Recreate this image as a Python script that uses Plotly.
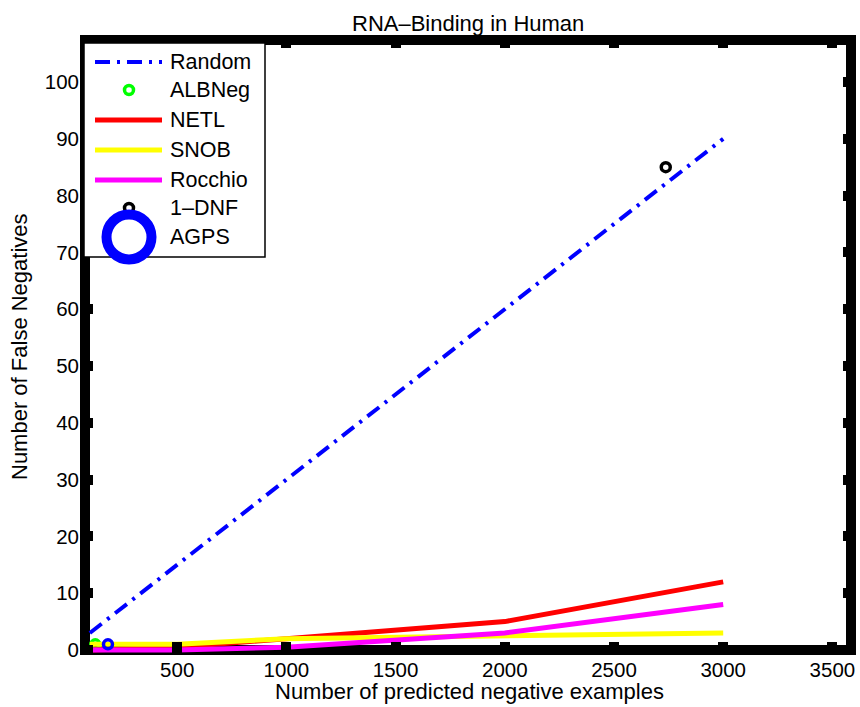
import plotly.graph_objects as go

# ---------------- data ----------------
x_pts = [100, 500, 1000, 2000, 3000]
random_vals = [3, 15, 30, 60, 90]
netl_vals = [0, 0.5, 2, 5, 12]
snob_vals = [1, 1, 2, 2.5, 3]
rocchio_vals = [0, 0, 0.5, 3, 8]

albneg_x = [125]
albneg_y = [1]
dnf_x = [2737]
dnf_y = [85]
agps_x = [183]
agps_y = [1]

x_ticks = [500, 1000, 1500, 2000, 2500, 3000, 3500]
y_ticks = [0, 10, 20, 30, 40, 50, 60, 70, 80, 90, 100]

title = "RNA–Binding in Human"
x_title = "Number of predicted negative examples"
y_title = "Number of False Negatives"
legend_names = ["Random", "ALBNeg", "NETL", "SNOB", "Rocchio", "1–DNF", "AGPS"]

# ---------------- layout geometry ----------------
W, H = 860, 707
L, R, T, B = 80, 4, 35, 52
PW, PH = W - L - R, H - T - B
FONT = "Liberation Sans, Arial, Helvetica, sans-serif"
RANDOM_DASH = "15px,7px,3px,7px"


def px2x(px):
    return (px - L) / PW


def py2y(py):
    return (T + PH - py) / PH


fig = go.Figure()

fig.add_trace(go.Scatter(x=x_pts, y=random_vals, mode="lines",
                         line=dict(color="#0000ff", width=4, dash=RANDOM_DASH),
                         name=legend_names[0], showlegend=False))
fig.add_trace(go.Scatter(x=albneg_x, y=albneg_y, mode="markers",
                         marker=dict(symbol="circle-open", size=9, color="#00ff00",
                                     line=dict(width=3.5)),
                         name=legend_names[1], showlegend=False, cliponaxis=False))
fig.add_trace(go.Scatter(x=x_pts, y=netl_vals, mode="lines",
                         line=dict(color="#ff0000", width=5),
                         name=legend_names[2], showlegend=False))
fig.add_trace(go.Scatter(x=x_pts, y=snob_vals, mode="lines",
                         line=dict(color="#ffff00", width=5),
                         name=legend_names[3], showlegend=False))
fig.add_trace(go.Scatter(x=x_pts, y=rocchio_vals, mode="lines",
                         line=dict(color="#ff00ff", width=5),
                         name=legend_names[4], showlegend=False))
fig.add_trace(go.Scatter(x=dnf_x, y=dnf_y, mode="markers",
                         marker=dict(symbol="circle-open", size=9, color="#000000",
                                     line=dict(width=3.5)),
                         name=legend_names[5], showlegend=False, cliponaxis=False))
fig.add_trace(go.Scatter(x=agps_x, y=agps_y, mode="markers",
                         marker=dict(symbol="circle-open", size=9, color="#0000ff",
                                     line=dict(width=3.5)),
                         name=legend_names[6], showlegend=False, cliponaxis=False))

# axis ranges chosen so that the frame band centres sit like the original
x_range = [(L - 68) / 0.2184, (L + PW - 68) / 0.2184]
y_range = [(650 - (T + PH)) / 5.68, (650 - T) / 5.68]

axis_common = dict(showgrid=False, zeroline=False, showline=False,
                   ticks="inside", ticklen=13, tickwidth=10, tickcolor="black",
                   mirror="ticks",
                   tickfont=dict(family=FONT, size=20.5, color="black"))

fig.update_xaxes(range=x_range, tickvals=x_ticks, ticktext=[str(v) for v in x_ticks],
                 **axis_common)
fig.update_yaxes(range=y_range, tickvals=y_ticks, ticktext=[str(v) for v in y_ticks],
                 **axis_common)

shapes = []
# thick frame
bw = 10
shapes.append(dict(type="rect", xref="paper", yref="paper",
                   x0=(bw / 2) / PW, x1=1 - (bw / 2) / PW,
                   y0=(bw / 2) / PH, y1=1 - (bw / 2) / PH,
                   line=dict(color="black", width=bw), fillcolor="rgba(0,0,0,0)",
                   layer="below"))

# custom legend (MATLAB style)
leg_left, leg_right, leg_top, leg_bottom = 84, 265, 43, 257
shapes.append(dict(type="rect", xref="paper", yref="paper",
                   x0=px2x(leg_left), x1=px2x(leg_right),
                   y0=py2y(leg_bottom), y1=py2y(leg_top),
                   line=dict(color="black", width=1.5), fillcolor="white",
                   layer="above"))
row_y = [62, 90, 120, 150, 180, 208, 237]
sample_x0, sample_x1, sample_xc, text_x = 95, 162, 129, 168

annotations = []
line_entries = {0: ("#0000ff", RANDOM_DASH, 4), 2: ("#ff0000", "solid", 5),
                3: ("#ffff00", "solid", 5), 4: ("#ff00ff", "solid", 5)}
for i, name in enumerate(legend_names):
    yy = py2y(row_y[i])
    if i in line_entries:
        c, d, w = line_entries[i]
        shapes.append(dict(type="line", xref="paper", yref="paper",
                           x0=px2x(sample_x0), x1=px2x(sample_x1), y0=yy, y1=yy,
                           line=dict(color=c, width=w, dash=d), layer="above"))
    annotations.append(dict(text=name, xref="paper", yref="paper",
                            x=px2x(text_x), y=yy, xanchor="left", yanchor="middle",
                            showarrow=False,
                            font=dict(family=FONT, size=21.5, color="black")))

ring_specs = [(1, "#00ff00", 4.5, 3.5), (5, "#000000", 4.5, 3.5), (6, "#0000ff", 22.5, 10)]
for idx, col, r, w in ring_specs:
    shapes.append(dict(type="circle", xref="paper", yref="paper",
                       xsizemode="pixel", ysizemode="pixel",
                       xanchor=px2x(sample_xc), yanchor=py2y(row_y[idx]),
                       x0=-r, x1=r, y0=-r, y1=r,
                       line=dict(color=col, width=w), fillcolor="rgba(0,0,0,0)",
                       layer="above"))

# titles
annotations.append(dict(text=title, xref="paper", yref="paper",
                        x=px2x(468), y=py2y(23), xanchor="center", yanchor="middle",
                        showarrow=False, font=dict(family=FONT, size=22, color="black")))
annotations.append(dict(text=x_title, xref="paper", yref="paper",
                        x=px2x(469), y=py2y(692), xanchor="center", yanchor="middle",
                        showarrow=False, font=dict(family=FONT, size=22, color="black")))
annotations.append(dict(text=y_title, xref="paper", yref="paper",
                        x=px2x(20), y=py2y(347), xanchor="center", yanchor="middle",
                        textangle=-90,
                        showarrow=False, font=dict(family=FONT, size=22, color="black")))

fig.update_layout(width=W, height=H,
                  margin=dict(l=L, r=R, t=T, b=B, pad=0),
                  paper_bgcolor="white", plot_bgcolor="white",
                  showlegend=False, shapes=shapes, annotations=annotations)

fig.write_html("out.html")
